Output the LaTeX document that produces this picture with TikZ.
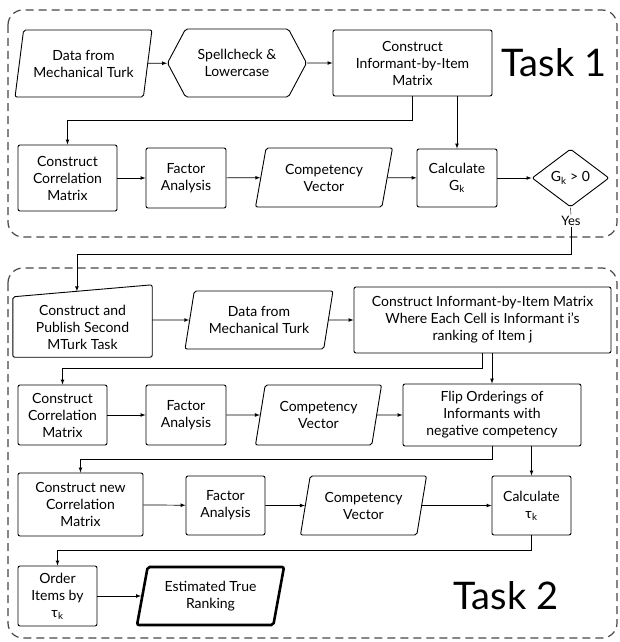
\documentclass[tikz,border=0pt]{standalone}
\usepackage{fontspec}
\setmainfont{Lato}
\usetikzlibrary{shapes.geometric,shapes.symbols,calc}
\newcommand\bodyfont{\fontsize{14}{17}\selectfont}
\newcommand\taskfont{\fontsize{38}{42}\selectfont}
\begin{document}
\begin{tikzpicture}[x=1pt,y=1pt,every node/.style={font=\bodyfont,align=center},
  box/.style={draw,rounded corners=2pt,line width=0.9pt,inner sep=1pt},
  para/.style={box,shape=trapezium,trapezium left angle=76,trapezium right angle=104,
    trapezium stretches=true},
  arr/.style={-latex,line width=0.7pt},
  taskframe/.style={draw=black!72,dash pattern=on 8pt off 5pt,line width=1.2pt,rounded corners=15pt}]
 \useasboundingbox (0,0) rectangle (619,-642);
 % dashed frames
 \draw [taskframe] (8,-10) rectangle (617,-237);
 \draw [taskframe] (8,-268) rectangle (617,-638);
 % Task 1
 \node [para,minimum width=137,minimum height=67] (data1) at (83.5,-63.5) {Data from\\Mechanical Turk};
 \node [box,shape=signal,signal to=west and east,signal pointer angle=124,
   minimum width=139,minimum height=68] (spell) at (237,-63) {Spellcheck \&\\Lowercase};
 \node [box,minimum width=159,minimum height=66] (mat1) at (412.5,-63) {Construct\\Informant-by-Item\\Matrix};
 \node [font=\taskfont] (task1) at (554,-63) {Task 1};
 \node [box,minimum width=99,minimum height=66] (corr1) at (67.5,-178) {Construct\\Correlation\\Matrix};
 \node [box,minimum width=80,minimum height=60] (fa1) at (186,-178) {Factor\\Analysis};
 \node [para,minimum width=138,minimum height=59] (comp1) at (324,-177.5) {Competency\\Vector};
 \node [box,minimum width=80,minimum height=58] (calc1) at (457,-178) {Calculate\\G\textsubscript{k}};
 \node [box,shape=diamond,minimum width=77,minimum height=58,inner sep=0pt] (test) at (570.5,-178) {G\textsubscript{k} > 0};
 \node [fill=white,inner sep=1pt,font=\fontsize{13}{15}\selectfont] (yes) at (571,-221) {Yes};
 \draw [arr] (data1) -- (spell);
 \draw [arr] (spell) -- (mat1);
 \draw [arr] (mat1.south) -- ++(0,-24) -| (corr1.north);
 \draw [arr] (calc1.north |- mat1.south) -- (calc1.north);
 \draw [arr] (corr1) -- (fa1);
 \draw [arr] (fa1) -- (comp1);
 \draw [arr] (comp1) -- (calc1);
 \draw [arr] (calc1) -- (test);
 \draw (test.south) -- (yes.north);
 % Task 2
 \node [minimum width=139,minimum height=60] (pub) at (82.5,-327) {Construct and\\Publish Second\\MTurk Task};
 \draw [box] (pub.south west) -- (pub.south east) -- ($(pub.north east)+(0,12)$) -- (pub.north west) -- cycle;
 \coordinate (pubtop) at ($(pub.north west)!0.46!(pub.north east)+(0,5.5)$);
 \draw [arr] (yes.south) -- ++(0,-27) -| (pubtop);
 \node [para,minimum width=148,minimum height=58] (data2) at (259,-320) {Data from\\Mechanical Turk};
 \node [box,minimum width=257,minimum height=66] (big) at (482.5,-320) {Construct Informant-by-Item Matrix\\Where Each Cell is Informant i's\\ranking of Item j};
 \node [box,minimum width=89,minimum height=60] (corr2) at (62.5,-415) {Construct\\Correlation\\Matrix};
 \node [box,minimum width=80,minimum height=60] (fa2) at (186,-415) {Factor\\Analysis};
 \node [para,minimum width=127,minimum height=60] (comp2) at (318.5,-415) {Competency\\Vector};
 \node [box,minimum width=178,minimum height=62] (flip) at (492,-415) {Flip Orderings of\\Informants with\\negative competency};
 \node [box,minimum width=125,minimum height=63] (corr3) at (80.5,-504.5) {Construct new\\Correlation\\Matrix};
 \node [box,minimum width=79,minimum height=59] (fa3) at (225.5,-505.5) {Factor\\Analysis};
 \node [para,minimum width=127,minimum height=59] (comp3) at (363.5,-505.5) {Competency\\Vector};
 \node [box,minimum width=79,minimum height=59] (calc2) at (531.5,-505.5) {Calculate\\τ\textsubscript{k}};
 \node [box,minimum width=79,minimum height=60] (order) at (57.5,-596) {Order\\Items by\\τ\textsubscript{k}};
 \node [para,line width=2.6pt,minimum width=147,minimum height=58] (est) at (210.5,-596) {Estimated True\\Ranking};
 \node [font=\taskfont] (task2) at (506,-596) {Task 2};
 \draw [arr] (pub.east |- data2) -- (data2);
 \draw [arr] (data2) -- (big);
 \draw [arr] (big.south) -- ++(0,-15) -| (corr2.north);
 \draw [arr] (flip.north |- big.south) -- (flip.north);
 \draw [arr] (corr2) -- (fa2);
 \draw [arr] (fa2) -- (comp2);
 \draw [arr] (comp2) -- (flip);
 \draw [arr] (flip.south) -- ++(0,-13) -| (corr3.north);
 \draw [arr] (calc2.north |- flip.south) -- (calc2.north);
 \draw [arr] (corr3) -- (fa3);
 \draw [arr] (fa3) -- (comp3);
 \draw [arr] (comp3) -- (calc2);
 \draw [arr] (calc2.south) -- ++(0,-15) -| (order.north);
 \draw [arr] (order) -- (est);
\end{tikzpicture}
\end{document}
